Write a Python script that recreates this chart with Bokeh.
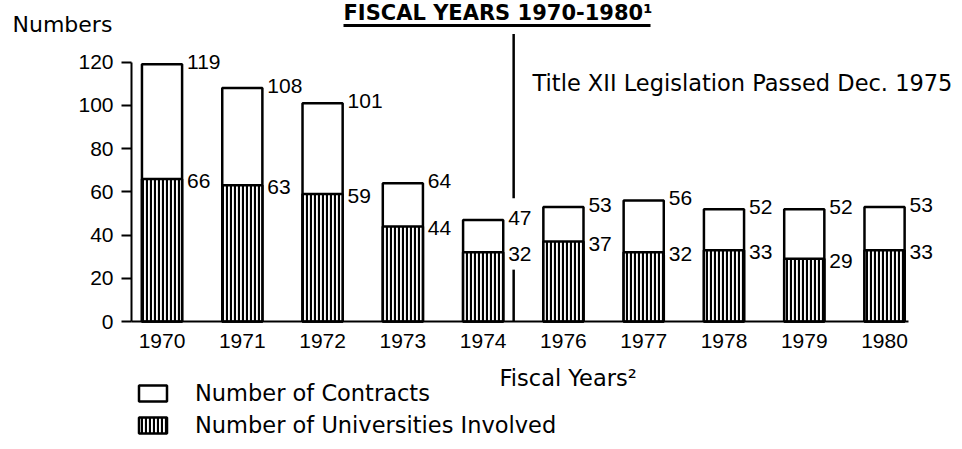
from bokeh.plotting import figure
from bokeh.models import (ColumnDataSource, Range1d, FixedTicker, LabelSet,
                          Label, Legend, LegendItem, BoxAnnotation)
from bokeh.core.properties import value
from bokeh.embed import file_html
from bokeh.resources import INLINE

# ---- data ----
years = ["1970", "1971", "1972", "1973", "1974", "1976", "1977", "1978", "1979", "1980"]
contracts = [119, 108, 101, 64, 47, 53, 56, 52, 52, 53]
universities = [66, 63, 59, 44, 32, 37, 32, 33, 29, 33]
y_ticks = [0, 20, 40, 60, 80, 100, 120]

title_text = "FISCAL YEARS 1970-1980\u00b9"
event_text = "Title XII Legislation Passed Dec. 1975"
x_label = "Fiscal Years\u00b2"
y_label = "Numbers"

# ---- layout constants (positions / styles) ----
W, H = 960, 448
X_RANGE = (-2.012, 9.946)     # category-slot units over the whole canvas
Y_RANGE = (-58.77, 148.55)
AXIS_X = -0.38                # where the value axis stands
BASE_END = 9.30               # end of the base line
event_x = 4.38                # event line, between 1974 and 1976
event_top = 133.0
event_gap = (57, 24)          # line interrupted around the 1974 labels
BAR_W = 0.5
TXT_SHIFT = 8                 # baseline correction for screen-unit labels

WORD_FONT = "DejaVu Sans"
NUM_FONT = "Liberation Sans"
WORD_SIZE = "22.5px"

pos = list(range(len(years)))
source = ColumnDataSource(dict(
    pos=pos,
    contracts=contracts,
    universities=universities,
    c_lab=[str(v) for v in contracts],
    u_lab=[str(v) for v in universities],
))

p = figure(width=W, height=H, x_range=Range1d(*X_RANGE), y_range=Range1d(*Y_RANGE),
           output_backend="svg", toolbar_location=None, min_border=0)
p.title.visible = False
p.outline_line_color = None
p.grid.visible = False
p.background_fill_color = "white"
p.border_fill_color = "white"

r1 = p.vbar(x="pos", top="contracts", width=BAR_W, source=source,
            fill_color="white", line_color="black", line_width=2.5)
r2 = p.vbar(x="pos", top="universities", width=BAR_W, source=source,
            fill_color="white", hatch_pattern="vertical_line", hatch_color="black",
            hatch_scale=4, hatch_weight=2.2, line_color="black", line_width=2.5)

# event line
p.segment(x0=[event_x, event_x], y0=[event_top, event_gap[1]],
          x1=[event_x, event_x], y1=[event_gap[0], 0],
          line_color="black", line_width=2.5)

# axes
xa = p.xaxis[0]
xa.fixed_location = 0
xa.bounds = (AXIS_X, BASE_END)
xa.ticker = FixedTicker(ticks=pos)
xa.major_label_overrides = {i: y for i, y in zip(pos, years)}
xa.axis_line_width = 2
xa.major_tick_line_color = None
xa.minor_tick_line_color = None
xa.major_label_text_font = NUM_FONT
xa.major_label_text_font_size = "21px"
xa.major_label_text_color = "black"
xa.major_label_standoff = 6

ya = p.yaxis[0]
ya.fixed_location = AXIS_X
ya.ticker = FixedTicker(ticks=y_ticks)
ya.bounds = (0, 120)
ya.axis_line_width = 2
ya.major_tick_out = 10
ya.major_tick_in = 0
ya.major_tick_line_width = 2
ya.minor_tick_line_color = None
ya.major_label_text_font = NUM_FONT
ya.major_label_text_font_size = "21px"
ya.major_label_text_color = "black"
ya.major_label_standoff = 8

# value labels
p.add_layout(LabelSet(x="pos", y="contracts", text="c_lab", source=source,
                      x_offset=25, y_offset=2, text_baseline="middle",
                      text_font=value(NUM_FONT), text_font_size="21px", text_color="black"))
p.add_layout(LabelSet(x="pos", y="universities", text="u_lab", source=source,
                      x_offset=25, y_offset=-2, text_baseline="middle",
                      text_font=value(NUM_FONT), text_font_size="21px", text_color="black"))

# texts (screen units, y measured up from the bottom of the canvas)
def screen_label(x, y_from_top, text, **kw):
    return Label(x=x, y=H - y_from_top + TXT_SHIFT, x_units="screen", y_units="screen",
                 text=text, text_baseline="alphabetic", text_color="black", **kw)

p.add_layout(screen_label(343, 20, title_text, text_font=WORD_FONT,
                          text_font_style="bold", text_font_size="21px"))
p.add_layout(BoxAnnotation(left=343, right=650, bottom=H - 26.5, top=H - 23.5,
                           left_units="screen", right_units="screen",
                           bottom_units="screen", top_units="screen",
                           fill_color="black", fill_alpha=1, line_color=None))
p.add_layout(screen_label(12, 32, y_label, text_font=WORD_FONT, text_font_size="22px"))
p.add_layout(screen_label(532, 90, event_text, text_font=WORD_FONT, text_font_size=WORD_SIZE))
p.add_layout(screen_label(499, 385, x_label, text_font=WORD_FONT, text_font_size=WORD_SIZE))

legend = Legend(items=[LegendItem(label="Number of Contracts", renderers=[r1]),
                       LegendItem(label="Number of Universities Involved", renderers=[r2])],
                location=(135, 10), orientation="vertical",
                glyph_width=35, glyph_height=20, label_height=26, label_standoff=25,
                spacing=6, padding=0, margin=0, border_line_color=None,
                background_fill_alpha=0,
                label_text_font=WORD_FONT, label_text_font_size=WORD_SIZE,
                label_text_color="black")
p.add_layout(legend, "center")

open("out.html", "w").write(file_html(p, INLINE))
